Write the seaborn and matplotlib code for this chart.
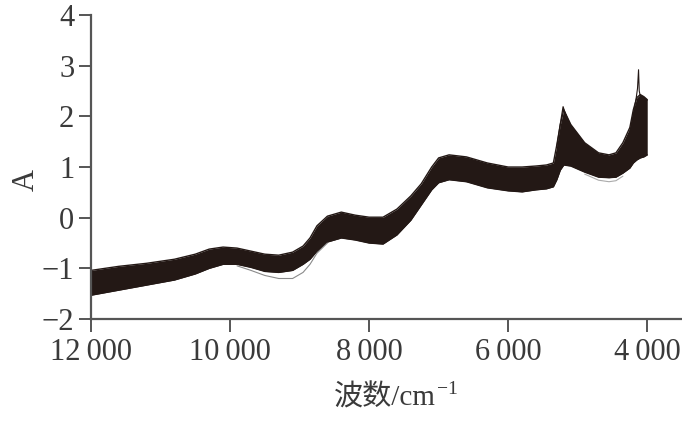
import numpy as np
import pandas as pd
import matplotlib
matplotlib.use("Agg")
import matplotlib.pyplot as plt
import seaborn as sns

# wavenumbers (cm-1)
wavenumber = [12000, 11600, 11200, 10800, 10500, 10300, 10100, 9900, 9700, 9500,
              9300, 9100, 8950, 8850, 8750, 8600, 8400, 8200, 8000, 7800,
              7600, 7400, 7250, 7100, 7000, 6850, 6600, 6300, 6000, 5800,
              5600, 5450, 5350, 5300, 5250, 5200, 5100, 4900, 4700, 4550,
              4450, 4350, 4250, 4200, 4150, 4100, 4050, 4000]

# upper and lower edge of the bundle of spectra
upper = [-1.04, -0.96, -0.90, -0.82, -0.72, -0.62, -0.58, -0.60, -0.66, -0.72,
         -0.74, -0.68, -0.56, -0.40, -0.16, 0.03, 0.11, 0.05, 0.01, 0.01,
         0.17, 0.43, 0.67, 1.00, 1.18, 1.24, 1.20, 1.08, 1.00, 1.00,
         1.02, 1.04, 1.08, 1.44, 1.84, 2.13, 1.84, 1.48, 1.28, 1.24,
         1.28, 1.48, 1.78, 2.13, 2.37, 2.43, 2.39, 2.33]
lower = [-1.53, -1.43, -1.33, -1.23, -1.11, -1.00, -0.92, -0.92, -0.98, -1.06,
         -1.08, -1.04, -0.92, -0.82, -0.66, -0.48, -0.40, -0.44, -0.50, -0.52,
         -0.34, -0.05, 0.25, 0.55, 0.69, 0.75, 0.71, 0.59, 0.53, 0.51,
         0.55, 0.57, 0.61, 0.75, 0.94, 1.04, 1.02, 0.90, 0.80, 0.79,
         0.80, 0.88, 0.98, 1.08, 1.14, 1.18, 1.20, 1.24]

# a few single spectra standing out of the bundle
low_wn = [9900, 9700, 9500, 9300, 9100, 8950, 8850, 8750, 8600]
low_a = [-0.95, -1.04, -1.14, -1.20, -1.20, -1.08, -0.92, -0.70, -0.50]
low2_wn = [4900, 4700, 4550, 4450, 4350]
low2_a = [0.86, 0.74, 0.71, 0.73, 0.82]
peak_wn = [5300, 5250, 5210, 5190, 5150, 5100]
peak_a = [1.40, 1.85, 2.19, 2.10, 1.95, 1.80]
spike_wn = [4250, 4200, 4160, 4140, 4125, 4115, 4100, 4050, 4000]
spike_a = [1.70, 2.05, 2.35, 2.55, 2.92, 2.50, 2.40, 2.38, 2.32]

xticks = [12000, 10000, 8000, 6000, 4000]
xtick_labels = ['12\u2009000', '10\u2009000', '8\u2009000', '6\u2009000', '4\u2009000']
yticks = [-2, -1, 0, 1, 2, 3, 4]
ytick_labels = ['\u22122', '\u22121', '0', '1', '2', '3', '4']

sns.set_style('ticks')
plt.rcParams['font.family'] = ['Liberation Serif', 'Noto Sans CJK SC', 'DejaVu Serif']
ink = '#231815'
axis_col = '#555555'
text_col = '#3a3a3a'

fig = plt.figure(figsize=(6.82, 4.22), dpi=100)
ax = fig.add_axes([0.1334, 0.244, 0.8666, 0.7204])

ax.fill_between(wavenumber, lower, upper, color=ink, linewidth=0)
df = pd.DataFrame({'wn': wavenumber * 2, 'A': upper + lower,
                   'edge': ['upper'] * len(upper) + ['lower'] * len(lower)})
sns.lineplot(data=df, x='wn', y='A', units='edge', estimator=None,
             color=ink, linewidth=1.0, ax=ax, sort=False)
sns.lineplot(x=low_wn, y=low_a, color='#8a8a8a', linewidth=0.8, ax=ax, sort=False)
sns.lineplot(x=low2_wn, y=low2_a, color='#aaaaaa', linewidth=0.8, ax=ax, sort=False)
sns.lineplot(x=peak_wn, y=peak_a, color=ink, linewidth=0.9, ax=ax, sort=False)
sns.lineplot(x=spike_wn, y=spike_a, color=ink, linewidth=0.8, ax=ax, sort=False)

ax.set_xlim(12000, 3500)
ax.set_ylim(-2, 4)
ax.set_xticks(xticks)
ax.set_xticklabels(xtick_labels)
ax.set_yticks(yticks)
ax.set_yticklabels(ytick_labels)
sns.despine(ax=ax)
for s in ['left', 'bottom']:
    ax.spines[s].set_color(axis_col)
    ax.spines[s].set_linewidth(1.6)
ax.tick_params(axis='both', direction='out', length=9, width=1.4,
               color=axis_col, labelcolor=text_col, labelsize=22)
ax.tick_params(axis='y', pad=3)
ax.tick_params(axis='x', pad=5)

ax.set_xlabel('波数/cm', fontsize=21, color=text_col)
ax.set_ylabel('A', fontsize=22, color=text_col)
ax.xaxis.set_label_coords(0.497, -0.215)
ax.yaxis.set_label_coords(-0.085, 0.457)
# superscript of the unit
ax.annotate('\u22121', xy=(1.0, 0.80), xycoords=ax.xaxis.label,
            xytext=(1, 0), textcoords='offset points',
            fontsize=14, color=text_col, ha='left', va='center')

fig.savefig('out.png', dpi=100)
